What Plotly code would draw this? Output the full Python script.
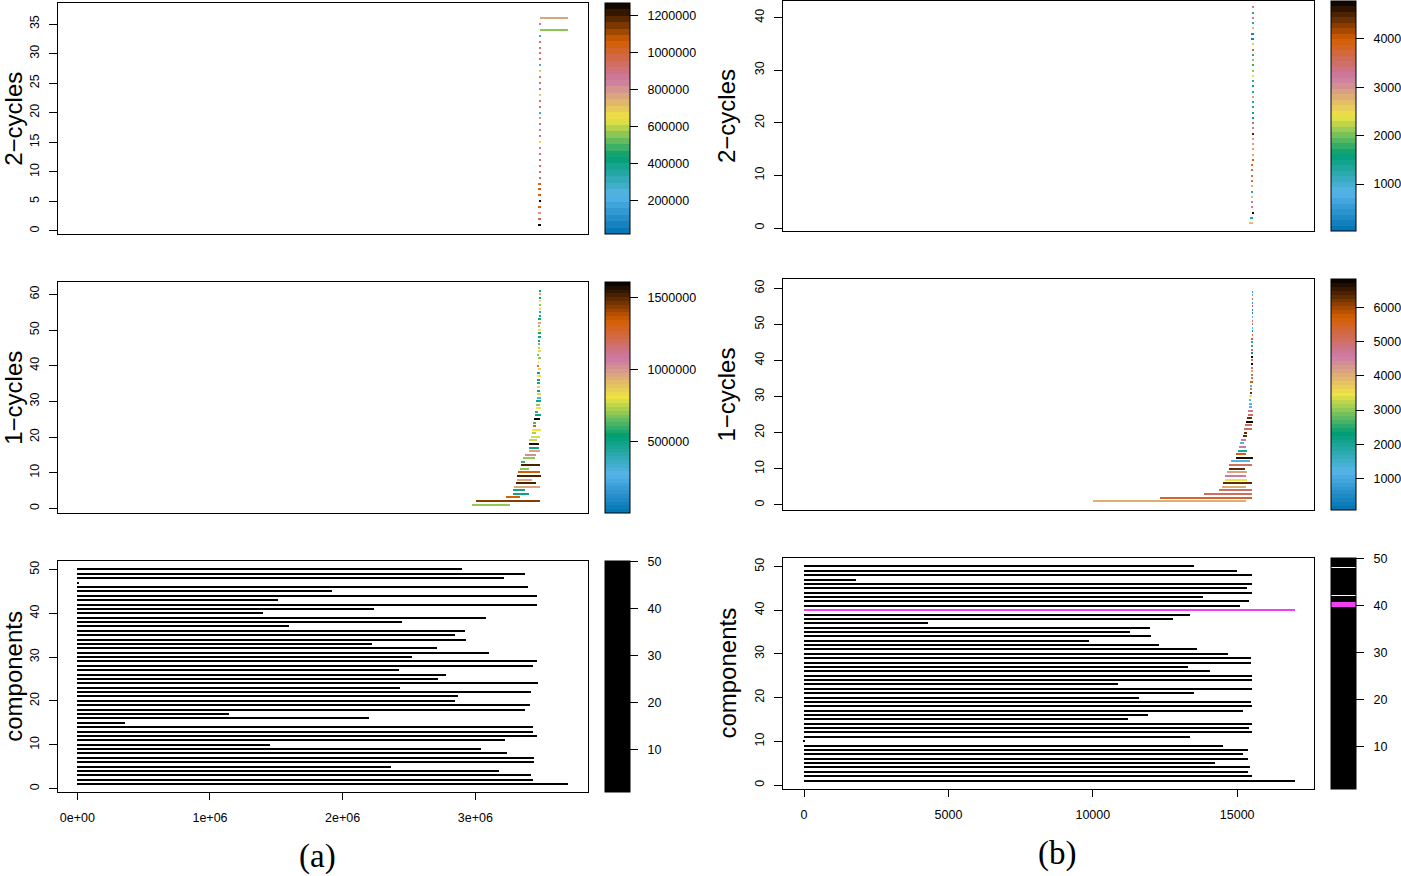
import plotly.graph_objects as go
from plotly.colors import sample_colorscale

W, H = 1401, 876
FONT = "Liberation Sans, Arial, Helvetica, sans-serif"
SERIF = "Liberation Serif, Times New Roman, serif"

# ------------------------------------------------------------------ data
# (a) 2-cycles : birth, death, colour value
a2_idx = list(range(1, 37))
a2_birth = [3.482e6, 3.482e6, 3.482e6, 3.482e6, 3.485e6, 3.482e6, 3.482e6, 3.482e6, 3.485e6, 3.485e6,
            3.488e6, 3.488e6, 3.488e6, 3.488e6, 3.488e6, 3.488e6, 3.488e6, 3.488e6, 3.488e6, 3.488e6,
            3.488e6, 3.490e6, 3.488e6, 3.490e6, 3.488e6, 3.490e6, 3.488e6, 3.488e6, 3.488e6, 3.490e6,
            3.490e6, 3.490e6, 3.488e6, 3.489e6, 3.488e6, 3.489e6]
a2_death = [3.497e6, 3.497e6, 3.497e6, 3.497e6, 3.495e6, 3.497e6, 3.497e6, 3.497e6, 3.496e6, 3.496e6,
            3.496e6, 3.496e6, 3.496e6, 3.496e6, 3.496e6, 3.496e6, 3.496e6, 3.496e6, 3.496e6, 3.496e6,
            3.496e6, 3.491e6, 3.496e6, 3.491e6, 3.496e6, 3.491e6, 3.496e6, 3.496e6, 3.496e6, 3.491e6,
            3.491e6, 3.491e6, 3.496e6, 3.704e6, 3.496e6, 3.704e6]
a2_col = [1240000, 960000, 790000, 1050000, 1240000, 1050000, 1050000, 1020000, 930000, 900000,
          940000, 900000, 900000, 880000, 640000, 900000, 880000, 920000, 800000, 266000,
          950000, 900000, 700000, 900000, 900000, 900000, 700000, 270000, 950000, 900000,
          900000, 900000, 270000, 553000, 880000, 765000]

# (a) 1-cycles
a1_idx = list(range(1, 62))
a1_birth = [2.976e6, 3.006e6, 3.233e6, 3.285e6, 3.285e6, 3.293e6, 3.308e6, 3.316e6, 3.316e6, 3.323e6,
            3.338e6, 3.346e6, 3.346e6, 3.361e6, 3.376e6, 3.406e6, 3.406e6, 3.406e6, 3.406e6, 3.421e6,
            3.429e6, 3.429e6, 3.437e6, 3.444e6, 3.444e6, 3.452e6, 3.459e6, 3.459e6, 3.459e6, 3.459e6,
            3.467e6, 3.467e6, 3.467e6, 3.467e6, 3.467e6, 3.467e6, 3.467e6, 3.467e6, 3.474e6, 3.474e6,
            3.480e6, 3.474e6, 3.474e6, 3.474e6, 3.482e6, 3.482e6, 3.482e6, 3.482e6, 3.482e6, 3.482e6,
            3.482e6, 3.482e6, 3.482e6, 3.489e6, 3.486e6, 3.489e6, 3.489e6, 3.489e6, 3.486e6, 3.489e6,
            3.489e6]
a1_death = [3.263e6, 3.489e6, 3.338e6, 3.406e6, 3.376e6, 3.489e6, 3.459e6, 3.429e6, 3.497e6, 3.489e6,
            3.406e6, 3.489e6, 3.376e6, 3.452e6, 3.459e6, 3.489e6, 3.482e6, 3.482e6, 3.467e6, 3.489e6,
            3.459e6, 3.494e6, 3.459e6, 3.459e6, 3.489e6, 3.494e6, 3.474e6, 3.494e6, 3.489e6, 3.494e6,
            3.494e6, 3.494e6, 3.489e6, 3.489e6, 3.489e6, 3.489e6, 3.494e6, 3.489e6, 3.494e6, 3.482e6,
            3.481e6, 3.494e6, 3.482e6, 3.494e6, 3.489e6, 3.489e6, 3.489e6, 3.494e6, 3.494e6, 3.494e6,
            3.489e6, 3.494e6, 3.494e6, 3.494e6, 3.494e6, 3.494e6, 3.494e6, 3.494e6, 3.494e6, 3.494e6,
            3.494e6]
a1_col = [690000, 1420000, 1330000, 480000, 480000, 960000, 1500000, 960000, 1500000, 1330000,
          700000, 1520000, 600000, 700000, 1000000, 960000, 480000, 1560000, 760000, 780000,
          720000, 800000, 1330000, 620000, 1590000, 480000, 600000, 800000, 690000, 480000,
          250000, 850000, 500000, 866000, 470000, 480000, 800000, 480000, 866000, 1200000,
          800000, 690000, 690000, 820000, 915000, 640000, 480000, 480000, 480000, 800000,
          690000, 960000, 480000, 560000, 160000, 800000, 690000, 800000, 480000, 960000,
          520000]

# (a) components (born at 0)
a0_idx = list(range(1, 51))
a0_death = [3.704e6, 3.440e6, 3.425e6, 3.184e6, 2.364e6, 3.448e6, 3.448e6, 3.238e6, 3.043e6, 1.455e6,
            3.230e6, 3.471e6, 3.440e6, 3.440e6, 0.360e6, 2.200e6, 1.148e6, 3.374e6, 3.417e6, 2.847e6,
            2.870e6, 3.425e6, 2.433e6, 3.477e6, 2.718e6, 2.784e6, 2.424e6, 3.434e6, 3.471e6, 2.522e6,
            3.106e6, 2.712e6, 2.223e6, 2.936e6, 2.847e6, 2.928e6, 1.599e6, 2.447e6, 3.086e6, 1.404e6,
            2.238e6, 3.471e6, 1.516e6, 3.471e6, 1.921e6, 3.402e6, 0.008e6, 3.221e6, 3.379e6, 2.905e6]
a0_birth = [0] * 50
a0_colors = ["black"] * 50

# (b) 2-cycles
b2_idx = list(range(1, 43))
b2_birth = [15422, 15456, 15530, 15491, 15491, 15491, 15491, 15491, 15491, 15491,
            15491, 15491, 15530, 15530, 15530, 15530, 15530, 15530, 15530, 15530,
            15530, 15530, 15530, 15530, 15530, 15530, 15530, 15530, 15530, 15530,
            15530, 15530, 15530, 15530, 15530, 15490, 15490, 15530, 15530, 15530,
            15530, 15530]
b2_death = [15565, 15565, 15565, 15570, 15570, 15570, 15570, 15570, 15570, 15570,
            15570, 15570, 15570, 15570, 15570, 15570, 15570, 15570, 15570, 15570,
            15570, 15570, 15570, 15570, 15570, 15570, 15570, 15570, 15570, 15570,
            15570, 15570, 15570, 15570, 15570, 15585, 15585, 15570, 15570, 15570,
            15570, 15570]
b2_col = [2700, 1364, 4740, 3300, 3300, 2750, 1364, 2800, 3600, 3550,
          3700, 3740, 3980, 2850, 2900, 2950, 2950, 4455, 3300, 3552,
          1555, 1450, 1364, 1364, 2886, 1364, 1400, 1364, 2410, 2125,
          1745, 2125, 1364, 3740, 2600, 175, 175, 2650, 1364, 3300,
          1364, 3250]

# (b) 1-cycles
b1_idx = list(range(1, 60))
b1_birth = [10018, 12339, 13852, 14383, 14487, 14521, 14590, 14590, 14660, 14729,
            14729, 14787, 14971, 14971, 15041, 15075, 15110, 15145, 15225, 15248,
            15248, 15283, 15318, 15352, 15398, 15398, 15433, 15433, 15433, 15433,
            15456, 15456, 15468, 15468, 15491, 15491, 15491, 15491, 15491, 15491,
            15491, 15491, 15491, 15514, 15514, 15514, 15526, 15526, 15526, 15526,
            15526, 15526, 15526, 15526, 15526, 15526, 15526, 15526, 15526]
b1_death = [15318, 15526, 15526, 15526, 15318, 15526, 15352, 15318, 15352, 15283,
            15526, 15456, 15549, 15318, 15352, 15318, 15248, 15318, 15364, 15364,
            15526, 15526, 15549, 15526, 15549, 15549, 15526, 15526, 15503, 15526,
            15526, 15526, 15526, 15549, 15549, 15549, 15549, 15549, 15549, 15549,
            15549, 15549, 15549, 15549, 15549, 15549, 15549, 15549, 15549, 15549,
            15549, 15549, 15549, 15549, 15549, 15549, 15549, 15549, 15549]
b1_col = [3986, 5335, 5065, 5065, 3986, 6280, 3446, 4593, 4120, 6280,
          5065, 1150, 6600, 5670, 1960, 4593, 1150, 4593, 6280, 6280,
          5065, 5065, 6750, 6280, 5065, 4593, 1150, 1150, 1150, 3446,
          6280, 5065, 1150, 5670, 5065, 5065, 4120, 5065, 6750, 5065,
          6750, 410, 5065, 1960, 1960, 5670, 5000, 410, 1150, 5065,
          5065, 1150, 410, 410, 5065, 700, 5065, 1150, 900]

# (b) components (born at 0)
b0_idx = list(range(1, 51))
b0_death = [17003, 15508, 15385, 15440, 14233, 15385, 15206, 15385, 14521, 20,
            13369, 15508, 15412, 15508, 11230, 11915, 15206, 15535, 15480, 11600,
            13506, 15508, 10873, 15535, 15535, 14068, 13300, 15480, 15480, 14685,
            13616, 12300, 9872, 12025, 11298, 11984, 4305, 12779, 13369, 17003,
            15096, 15412, 13821, 15535, 15343, 15535, 1810, 15508, 15000, 13506]
b0_birth = [0] * 50
b0_colors = ["black"] * 39 + ["#F53DF5"] + ["black"] * 10

# axis ticks / colour-bar ticks
a_xticks = [0, 1e6, 2e6, 3e6]
a_xticktext = ["0e+00", "1e+06", "2e+06", "3e+06"]
b_xticks = [0, 5000, 10000, 15000]
b_xticktext = ["0", "5000", "10000", "15000"]
a2_cb_ticks = [200000, 400000, 600000, 800000, 1000000, 1200000]
a1_cb_ticks = [500000, 1000000, 1500000]
comp_cb_ticks = [10, 20, 30, 40, 50]
b2_cb_ticks = [1000, 2000, 3000, 4000]
b1_cb_ticks = [1000, 2000, 3000, 4000, 5000, 6000]

# ------------------------------------------------------------------ colours
BASE = [[0, '#0072B2'], [1 / 6, '#56B4E9'], [2 / 6, '#009E73'], [3 / 6, '#F0E442'],
        [4 / 6, '#CC79A7'], [5 / 6, '#D55E00'], [1, '#000000']]


def banded(n):
    cols = sample_colorscale(BASE, [(k + 0.5) / n for k in range(n)])
    cs = []
    for k, c in enumerate(cols):
        cs.append([k / n, c])
        cs.append([(k + 1) / n, c])
    return cs


BLACK_CS = [[0, '#000000'], [1, '#000000']]
MAG = '#F53DF5'
B0_CS = [[0, '#000'], [0.7878, '#000'], [0.7878, MAG], [0.8102, MAG], [0.8102, '#000'],
         [0.8347, '#000'], [0.8347, '#fff'], [0.8388, '#fff'], [0.8388, '#000'],
         [0.9551, '#000'], [0.9551, '#fff'], [0.9592, '#fff'], [0.9592, '#000'], [1, '#000']]

# ------------------------------------------------------------------ figure
fig = go.Figure()


def xd(x0, x1):
    return [x0 / W, x1 / W]


def yd(y0, y1):
    return [1 - y1 / H, 1 - y0 / H]


NB = '\u00a0\u00a0'


def cbar(x0, y0, y1, vals):
    return dict(x=x0 / W, xanchor='left', y=1 - y0 / H, yanchor='top',
                len=(y1 - y0) / H, lenmode='fraction', thickness=25.4, thicknessmode='pixels',
                xpad=0, ypad=0, outlinewidth=1, outlinecolor='black', ticks='outside',
                ticklen=8, tickwidth=1, tickcolor='black', tickvals=vals,
                ticktext=[NB + str(v) for v in vals],
                tickfont=dict(size=12.5, color='black', family=FONT))


def bars(ax, idx, birth, death, col, cs, cmin, cmax, width, cb):
    fig.add_trace(go.Bar(
        y=idx, x=[d - b for b, d in zip(birth, death)], base=birth, orientation='h',
        width=width, xaxis='x' + ax, yaxis='y' + ax, hoverinfo='skip', showlegend=False,
        marker=dict(color=col, colorscale=cs, cmin=cmin, cmax=cmax, showscale=True,
                    colorbar=cb, line=dict(width=0))))


def bars_plain(ax, idx, birth, death, colors, width):
    fig.add_trace(go.Bar(
        y=idx, x=[d - b for b, d in zip(birth, death)], base=birth, orientation='h',
        width=width, xaxis='x' + ax, yaxis='y' + ax, hoverinfo='skip', showlegend=False,
        marker=dict(color=colors, line=dict(width=0))))


def cb_only(ax, cs, cmin, cmax, cb):
    fig.add_trace(go.Scatter(
        x=[None], y=[None], mode='markers', xaxis='x' + ax, yaxis='y' + ax,
        hoverinfo='skip', showlegend=False,
        marker=dict(color=[cmin], colorscale=cs, cmin=cmin, cmax=cmax, showscale=True,
                    colorbar=cb)))


# (a)
bars('', a2_idx, a2_birth, a2_death, a2_col, banded(36), 16000, 1265000, 0.22,
     cbar(605.3, 3.3, 234.3, a2_cb_ticks))
bars('2', a1_idx, a1_birth, a1_death, a1_col, banded(61), 0, 1604000, 0.36,
     cbar(605.3, 282.3, 513.3, a1_cb_ticks))
bars_plain('3', a0_idx, a0_birth, a0_death, a0_colors, 0.3)
cb_only('3', BLACK_CS, 1, 50, cbar(605.3, 561.3, 792.3, comp_cb_ticks))
# (b)
bars('4', b2_idx, b2_birth, b2_death, b2_col, banded(42), 33, 4788, 0.24,
     cbar(1331.3, 0.8, 231, b2_cb_ticks))
bars('5', b1_idx, b1_birth, b1_death, b1_col, banded(59), 73, 6819, 0.36,
     cbar(1331.3, 279.3, 510, b1_cb_ticks))
bars_plain('6', b0_idx, b0_birth, b0_death, b0_colors, 0.3)
cb_only('6', B0_CS, 1, 50, cbar(1331.3, 558.3, 789, comp_cb_ticks))

panels = [
    # key, xdomain, ydomain, xrange, yrange, yticks, xticks, xticktext
    ('', xd(58.3, 588.3), yd(3.3, 234.3), [-0.1435e6, 3.852e6], [-0.56, 38.5], list(range(0, 36, 5)), None, None),
    ('2', xd(58.3, 588.3), yd(282.3, 513.3), [-0.1435e6, 3.852e6], [-1.4, 63.4], list(range(0, 61, 10)), None, None),
    ('3', xd(58.3, 588.3), yd(561.3, 792.3), [-0.1435e6, 3.852e6], [-0.85, 51.9], list(range(0, 51, 10)), a_xticks, a_xticktext),
    ('4', xd(783.3, 1314.3), yd(0.8, 231), [-720, 17672], [-0.57, 43.2], list(range(0, 41, 10)), None, None),
    ('5', xd(783.3, 1314.3), yd(279.3, 510), [-720, 17672], [-1.4, 62.5], list(range(0, 61, 10)), None, None),
    ('6', xd(783.3, 1314.3), yd(558.3, 789), [-720, 17672], [-0.9, 51.9], list(range(0, 51, 10)), b_xticks, b_xticktext),
]

lay = {}
for key, xdom, ydom, xr, yr, yt, xt, xtt in panels:
    xa = dict(domain=xdom, range=xr, anchor='y' + key, showgrid=False, zeroline=False,
              showline=True, mirror=True, linecolor='black', linewidth=1,
              fixedrange=True)
    if xt is None:
        xa.update(showticklabels=False, ticks='')
    else:
        xa.update(tickvals=xt, ticktext=xtt, ticks='outside', ticklen=7, tickwidth=1,
                  tickcolor='black', ticklabelstandoff=7,
                  tickfont=dict(size=12.5, color='black', family=FONT))
    ya = dict(domain=ydom, range=yr, anchor='x' + key, showgrid=False, zeroline=False,
              showline=True, mirror=True, linecolor='black', linewidth=1,
              tickvals=yt, ticks='outside', ticklen=8, tickwidth=1, tickcolor='black',
              tickangle=-90, ticklabelstandoff=5, fixedrange=True,
              tickfont=dict(size=12.5, color='black', family=FONT))
    lay['xaxis' + key] = xa
    lay['yaxis' + key] = ya

titles = [("2\u2212cycles", 14, 118.8), ("1\u2212cycles", 14, 397.8), ("components", 14, 676.8),
          ("2\u2212cycles", 727, 116), ("1\u2212cycles", 727, 394.6), ("components", 728, 673.6)]
annotations = []
for txt, x, y in titles:
    annotations.append(dict(text=txt, x=x / W, y=1 - y / H, xref='paper', yref='paper',
                            xanchor='center', yanchor='middle', textangle=-90, showarrow=False,
                            borderpad=0,
                            font=dict(size=24, color='black', family=FONT)))
for txt, x, y in [("(a)", 317, 856), ("(b)", 1057, 853)]:
    annotations.append(dict(text=txt, x=x / W, y=1 - y / H, xref='paper', yref='paper',
                            xanchor='center', yanchor='middle', showarrow=False,
                            font=dict(size=33, color='black', family=SERIF)))

fig.update_layout(width=W, height=H, margin=dict(l=0, r=0, t=0, b=0, autoexpand=False),
                  paper_bgcolor='white', plot_bgcolor='white', annotations=annotations,
                  font=dict(family=FONT, color='black'), bargap=0, **lay)

fig.write_html("out.html", config={'displayModeBar': False},
               post_script="document.body.style.margin='0px';document.body.style.overflow='hidden';")
